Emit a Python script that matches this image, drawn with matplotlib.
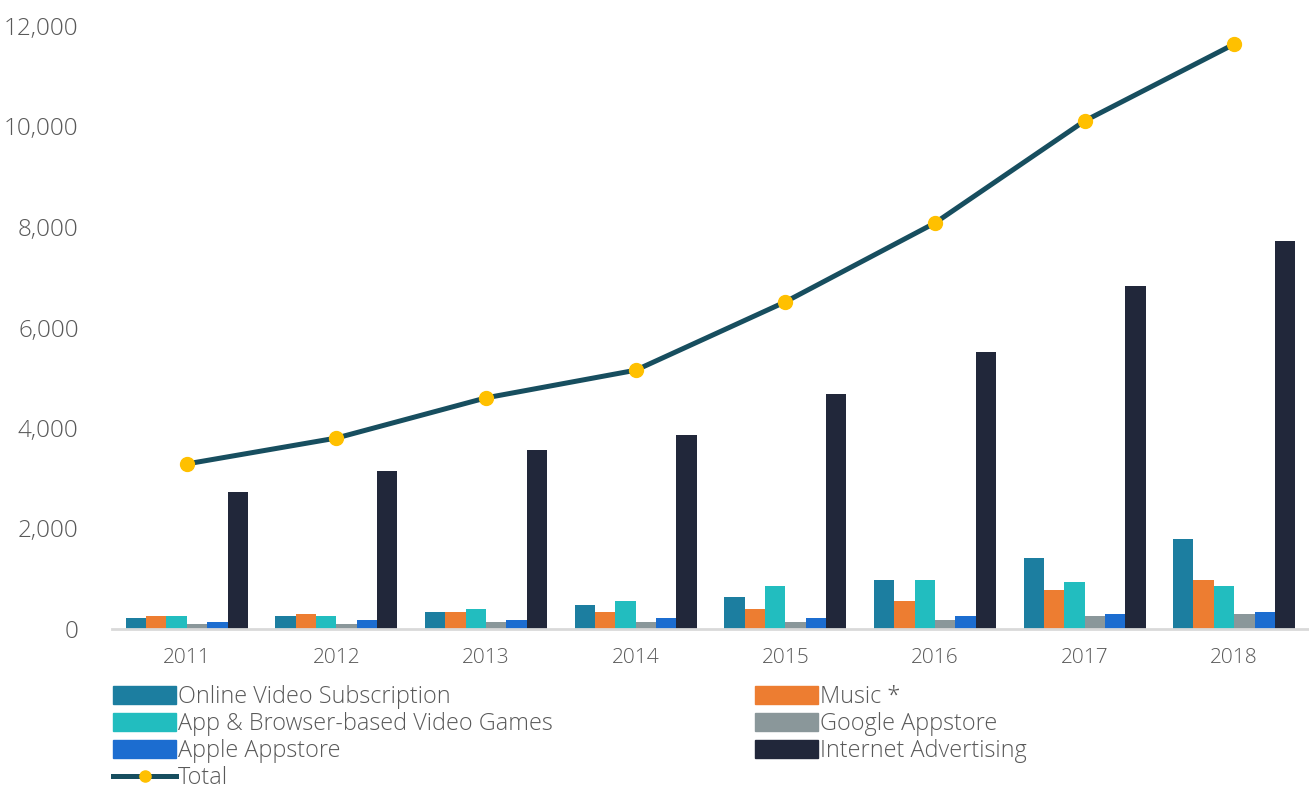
import matplotlib.pyplot as plt
import numpy as np
from matplotlib.ticker import FuncFormatter
from matplotlib.lines import Line2D
from matplotlib.patches import Patch

years = ['2011', '2012', '2013', '2014', '2015', '2016', '2017', '2018']
series_names = ['Online Video Subscription', 'Music *',
                'App & Browser-based Video Games', 'Google Appstore',
                'Apple Appstore', 'Internet Advertising']
online_video = [220, 260, 345, 470, 640, 980, 1405, 1785]
music = [260, 300, 345, 345, 390, 555, 770, 980]
video_games = [260, 260, 390, 555, 855, 980, 935, 855]
google_appstore = [95, 95, 140, 140, 140, 180, 260, 300]
apple_appstore = [135, 180, 180, 220, 220, 260, 300, 345]
internet_adv = [2730, 3150, 3560, 3860, 4680, 5510, 6830, 7720]
total = [3285, 3800, 4600, 5150, 6510, 8080, 10110, 11640]

colors = ['#1c7ea0', '#ed7d31', '#22bdbf', '#8a979a', '#1c6dd0', '#21273a']
line_color = '#174e5f'
marker_color = '#ffc000'
text_color = '#595959'

plt.rcParams['font.family'] = ['Open Sans', 'DejaVu Sans']
plt.rcParams['font.weight'] = 'light'

fig = plt.figure(figsize=(13.09, 7.87), dpi=100)
ax = fig.add_axes([112 / 1309, 158 / 787, 1 - 112 / 1309, (629 - 26) / 787])

x = np.arange(len(years))
data = [online_video, music, video_games, google_appstore,
        apple_appstore, internet_adv]
width = 0.136
for i, vals in enumerate(data):
    ax.bar(x + (i - 2.5) * width, vals, width, color=colors[i], zorder=2)

ax.plot(x, total, color=line_color, linewidth=3.6, marker='o',
        markersize=10, markerfacecolor=marker_color,
        markeredgecolor=marker_color, zorder=3)

ax.set_xlim(-0.5, 7.5)
ax.set_ylim(0, 12000)
ax.set_yticks(np.arange(0, 12001, 2000))
ax.yaxis.set_major_formatter(FuncFormatter(lambda v, p: f'{int(v):,}'))
ax.set_xticks(x)
ax.set_xticklabels(years)
ax.tick_params(axis='y', length=0, labelsize=17.5, labelcolor=text_color, pad=24)
ax.tick_params(axis='x', length=0, labelsize=15, labelcolor=text_color, pad=14)
for side in ['top', 'right', 'left']:
    ax.spines[side].set_visible(False)
ax.spines['bottom'].set_color('#d9d9d9')
ax.spines['bottom'].set_linewidth(2)

h = [Patch(color=c) for c in colors]
total_handle = Line2D([], [], color=line_color, linewidth=3.6, marker='o',
                      markersize=8, markerfacecolor=marker_color,
                      markeredgecolor=marker_color)
leg_kw = dict(loc='upper left', frameon=False, fontsize=16.8,
              handlelength=2.7, handleheight=0.8, handletextpad=0.1,
              labelspacing=0.13, borderpad=0, borderaxespad=0,
              labelcolor=text_color)
leg1 = fig.legend([h[0], h[2], h[4], total_handle],
                  [series_names[0], series_names[2], series_names[4], 'Total'],
                  bbox_to_anchor=(113 / 1309, 1 - 685 / 787), **leg_kw)
leg2 = fig.legend([h[1], h[3], h[5]],
                  [series_names[1], series_names[3], series_names[5]],
                  bbox_to_anchor=(755 / 1309, 1 - 685 / 787), **leg_kw)

fig.savefig('out.png', dpi=100)
